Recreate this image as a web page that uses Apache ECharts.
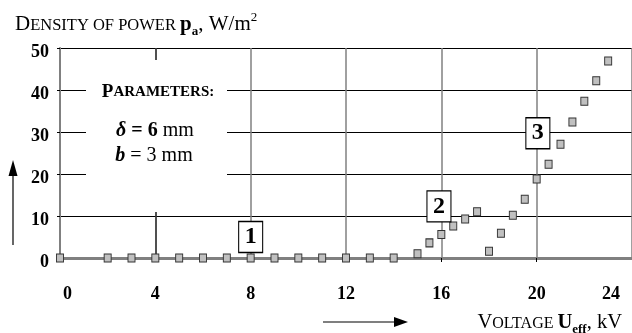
<!DOCTYPE html>
<html>
<head>
<meta charset="utf-8">
<script src="https://cdn.jsdelivr.net/npm/echarts@6/dist/echarts.min.js"></script>
<style>html,body{margin:0;padding:0;background:#fff}#c{width:632px;height:333px}</style>
</head>
<body>
<div id="c"></div>
<script>
// ---- data ----
const voltage = [0,2,3,4,5,6,7,8,9,10,11,12,13,14,15,15.5,16,16.5,17,17.5,18,18.5,19,19.5,20,20.5,21,21.5,22,22.5,23];
const power   = [0,0,0,0,0,0,0,0,0,0,0,0,0,0,1.0,3.6,5.6,7.6,9.3,11.0,1.6,5.9,10.2,14.0,18.8,22.3,27.1,32.4,37.3,42.2,46.9];
const xTickValues = [0,4,8,12,16,20,24];
const yTickValues = [0,10,20,30,40,50];
const regionLabels = ['1','2','3'];
const regionX = [8, 15.9, 20.05];
const regionY = [5.0, 12.3, 29.7];

const FONT = 'Liberation Serif';
const scatterData = voltage.map((v,i)=>[v, power[i]]);
const markData = regionLabels.map((l,i)=>({coord:[regionX[i], regionY[i]], value:l}));
const tickFont = {fontFamily:FONT, fontWeight:'bold', fontSize:18, color:'#000'};

const chart = echarts.init(document.getElementById('c'), null, {renderer:'canvas'});
chart.setOption({
  animation:false,
  backgroundColor:'#fff',
  grid:{left:60, right:-4, top:48, bottom:75, containLabel:false},
  xAxis:{
    type:'value', min:xTickValues[0], max:xTickValues[xTickValues.length-1], interval:4,
    axisLine:{show:true, onZero:true, lineStyle:{color:'#808080', width:3}},
    axisTick:{show:true, length:4, lineStyle:{color:'#000', width:1}},
    axisLabel:Object.assign({show:true, showMinLabel:true, showMaxLabel:true, margin:27,
      alignMinLabel:'left', alignMaxLabel:'right',
      formatter:v=> v===0 ? '{l|0}' : (v===24 ? '{r|24}' : '{m|' + v + '}'),
      rich:{
        l:Object.assign({padding:[0,0,0,3]}, tickFont),
        r:Object.assign({padding:[0,12,0,0]}, tickFont),
        m:Object.assign({}, tickFont)
      }}, tickFont),
    splitLine:{show:true, lineStyle:{color:'#808080', width:1.5}}
  },
  yAxis:{
    type:'value', min:yTickValues[0], max:yTickValues[yTickValues.length-1], interval:10,
    axisLine:{show:true, lineStyle:{color:'#808080', width:2}},
    axisTick:{show:true, length:3, lineStyle:{color:'#000', width:1}},
    axisLabel:Object.assign({margin:11, formatter:v=>'{v|' + v + '}',
      rich:{v:Object.assign({padding:[8,0,0,0]}, tickFont)}}, tickFont),
    splitLine:{show:true, lineStyle:{color:'#000', width:1}}
  },
  series:[{
    type:'scatter',
    data:scatterData,
    symbol:'rect',
    symbolSize:[7,8],
    itemStyle:{color:'#c0c0c0', borderColor:'#333', borderWidth:1, opacity:1},
    z:3,
    markPoint:{
      symbol:'rect',
      symbolSize:[24,31],
      itemStyle:{color:'#fff', borderColor:'#000', borderWidth:1.2},
      label:{show:true, position:'inside', formatter:'{c}', fontFamily:FONT, fontWeight:'bold', fontSize:24, color:'#000'},
      data:markData
    }
  }],
  graphic:[
    {type:'rect', shape:{x:86, y:60, width:141, height:152}, style:{fill:'#fff'}, z:50},
    {type:'line', shape:{x1:156, y1:212, x2:156, y2:258}, style:{stroke:'#000', lineWidth:1}, z:1},
    {type:'line', shape:{x1:156, y1:48, x2:156, y2:60}, style:{stroke:'#000', lineWidth:1}, z:1},
    {type:'text', x:158, y:92, z:51, style:{
      text:'{a|P}{b|ARAMETERS:}', align:'center', verticalAlign:'middle',
      rich:{a:{fontFamily:FONT, fontWeight:'bold', fontSize:19, fill:'#000'},
            b:{fontFamily:FONT, fontWeight:'bold', fontSize:15, fill:'#000'}}}},
    {type:'text', x:155, y:131, z:51, style:{
      text:'{i|δ}{b| = 6}{n| mm}', align:'center', verticalAlign:'middle',
      rich:{i:{fontFamily:FONT, fontWeight:'bold', fontStyle:'italic', fontSize:20, fill:'#000'},
            b:{fontFamily:FONT, fontWeight:'bold', fontSize:20, fill:'#000'},
            n:{fontFamily:FONT, fontSize:20, fill:'#000'}}}},
    {type:'text', x:154, y:156, z:51, style:{
      text:'{i|b}{n| = 3 mm}', align:'center', verticalAlign:'middle',
      rich:{i:{fontFamily:FONT, fontWeight:'bold', fontStyle:'italic', fontSize:20, fill:'#000'},
            n:{fontFamily:FONT, fontSize:20, fill:'#000'}}}},
    // y axis title
    {type:'text', x:15, y:24, style:{
      text:'{a|D}{b|ENSITY OF POWER }{p|p}{s|a}{a|, W/m}{u|2}', align:'left', verticalAlign:'middle',
      rich:{a:{fontFamily:FONT, fontSize:21, fill:'#000', lineHeight:22, verticalAlign:'bottom'},
            b:{fontFamily:FONT, fontSize:16.5, fill:'#000', lineHeight:22, verticalAlign:'bottom', padding:[0,0,1,0]},
            p:{fontFamily:FONT, fontWeight:'bold', fontSize:21, fill:'#000', lineHeight:22, verticalAlign:'bottom'},
            s:{fontFamily:FONT, fontWeight:'bold', fontSize:13, fill:'#000', lineHeight:22, verticalAlign:'bottom', padding:[0,0,-3,0]},
            u:{fontFamily:FONT, fontSize:13, fill:'#000', lineHeight:22, verticalAlign:'top', padding:[-2,0,0,0]}}}},
    // x axis title
    {type:'text', x:622, y:322, style:{
      text:'{a|V}{b|OLTAGE }{p|U}{s|eff}{a|, kV}', align:'right', verticalAlign:'middle',
      rich:{a:{fontFamily:FONT, fontSize:20.5, fill:'#000', lineHeight:22, verticalAlign:'bottom'},
            b:{fontFamily:FONT, fontSize:16, fill:'#000', lineHeight:22, verticalAlign:'bottom', padding:[0,0,1,0]},
            p:{fontFamily:FONT, fontWeight:'bold', fontSize:20.5, fill:'#000', lineHeight:22, verticalAlign:'bottom'},
            s:{fontFamily:FONT, fontWeight:'bold', fontSize:13, fill:'#000', lineHeight:22, verticalAlign:'bottom', padding:[0,0,-3,0]}}}},
    // arrows
    {type:'line', shape:{x1:13, y1:245, x2:13, y2:172}, style:{stroke:'#000', lineWidth:1.2}},
    {type:'polygon', shape:{points:[[13,160],[8.5,176],[17.5,176]]}, style:{fill:'#000'}},
    {type:'line', shape:{x1:323, y1:322, x2:396, y2:322}, style:{stroke:'#000', lineWidth:1.2}},
    {type:'polygon', shape:{points:[[408,322],[394,317],[394,327]]}, style:{fill:'#000'}}
  ]
});
</script>
</body>
</html>
